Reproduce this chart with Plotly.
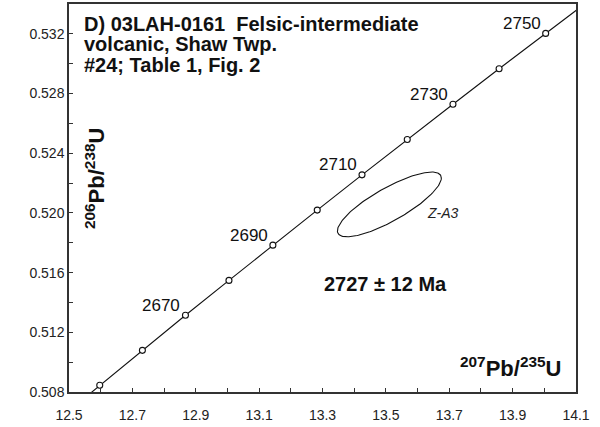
import numpy as np
import plotly.graph_objects as go

# Concordia points (age in Ma, 207Pb/235U, 206Pb/238U)
ages = [2640, 2650, 2660, 2670, 2680, 2690, 2700, 2710, 2720, 2730, 2740, 2750, 2760]
conc_x = [12.4638, 12.5970, 12.7316, 12.8675, 13.0048, 13.1434, 13.2834, 13.4247, 13.5675, 13.7117, 13.8573, 14.0043, 14.1528]
conc_y = [0.50611, 0.50845, 0.51079, 0.51314, 0.51548, 0.51784, 0.52019, 0.52255, 0.52492, 0.52728, 0.52966, 0.53203, 0.53441]
marker_ages = [2650, 2660, 2670, 2680, 2690, 2700, 2710, 2720, 2730, 2740, 2750]
label_ages = [2670, 2690, 2710, 2730, 2750]

# Analysis ellipse Z-A3
ell_name = "Z-A3"
ell_cx = 13.511
ell_cy = 0.52057
ell_ex = 0.164
ell_ey = 0.00217
ell_rho = 0.815

age_result = "2727 ± 12 Ma"

x_ticks = [12.5, 12.7, 12.9, 13.1, 13.3, 13.5, 13.7, 13.9, 14.1]
y_ticks = [0.508, 0.512, 0.516, 0.520, 0.524, 0.528, 0.532]

FONT = "Liberation Sans, Arial, sans-serif"

fig = go.Figure()

# concordia line
fig.add_trace(go.Scatter(x=conc_x, y=conc_y, mode="lines",
                         line=dict(color="#111111", width=1.1),
                         hoverinfo="skip", showlegend=False))
mx = [conc_x[ages.index(a)] for a in marker_ages]
my = [conc_y[ages.index(a)] for a in marker_ages]
fig.add_trace(go.Scatter(x=mx, y=my, mode="markers",
                         marker=dict(symbol="circle", size=6, color="white",
                                     line=dict(color="#111111", width=1.1)),
                         text=[str(a) for a in marker_ages],
                         showlegend=False, cliponaxis=False))

# ellipse
t = np.linspace(0, 2 * np.pi, 200)
ex = ell_cx + ell_ex * np.cos(t)
ey = ell_cy + ell_ey * (ell_rho * np.cos(t) + np.sqrt(1 - ell_rho ** 2) * np.sin(t))
fig.add_trace(go.Scatter(x=ex, y=ey, mode="lines",
                         line=dict(color="#111111", width=1.1),
                         hoverinfo="skip", showlegend=False))

annotations = []
for a in label_ages:
    i = ages.index(a)
    annotations.append(dict(x=conc_x[i], y=conc_y[i], xref="x", yref="y",
                            text=str(a), showarrow=False,
                            xanchor="right", yanchor="middle",
                            xshift=-3, yshift=10,
                            font=dict(family=FONT, size=17, color="#111111")))

annotations.append(dict(x=ell_cx + ell_ex * 1.02, y=ell_cy - ell_ey * 0.4, xref="x", yref="y",
                        text="<i>" + ell_name + "</i>", showarrow=False,
                        xanchor="center", yanchor="middle", xshift=1, yshift=4,
                        font=dict(family=FONT, size=14, color="#222222")))

title_lines = ["D) 03LAH-0161  Felsic-intermediate",
               "volcanic, Shaw Twp.",
               "#24; Table 1, Fig. 2"]
for k, line in enumerate(title_lines):
    annotations.append(dict(x=0.025, y=1 - (20 + 20.7 * k) / 390, xref="paper", yref="paper",
                            text="<b>" + line + "</b>", showarrow=False,
                            xanchor="left", yanchor="middle",
                            font=dict(family=FONT, size=20, color="#111111")))

annotations.append(dict(x=13.498, y=0.51527, xref="x", yref="y",
                        text="<b>" + age_result + "</b>", showarrow=False,
                        xanchor="center", yanchor="middle",
                        font=dict(family=FONT, size=20, color="#111111")))

annotations.append(dict(x=0.976, y=(392 - 367) / 390, xref="paper", yref="paper",
                        text="<b><sup>207</sup>Pb/<sup>235</sup>U</b>", showarrow=False,
                        xanchor="right", yanchor="middle",
                        font=dict(family=FONT, size=22, color="#111111")))

annotations.append(dict(x=(95 - 69) / 507, y=(392 - 177) / 390, xref="paper", yref="paper",
                        text="<b><sup>206</sup>Pb/<sup>238</sup>U</b>", showarrow=False,
                        textangle=-90, xanchor="center", yanchor="middle",
                        font=dict(family=FONT, size=22, color="#111111")))

axis_common = dict(showgrid=False, zeroline=False, showline=True, mirror=True,
                   linecolor="#333333", linewidth=1.5, ticks="inside", ticklen=4,
                   tickcolor="#333333", tickwidth=1,
                   tickfont=dict(family=FONT, size=14, color="#222222"))

fig.update_xaxes(range=[12.5, 14.1], tickvals=x_ticks,
                 ticktext=[f"{v:.1f}" for v in x_ticks],
                 ticklabelstandoff=9,
                 minor=dict(dtick=0.1, tick0=12.5, ticks="inside", ticklen=4,
                            tickcolor="#333333", tickwidth=1),
                 **axis_common)
fig.update_yaxes(range=[0.508, 0.534], tickvals=y_ticks,
                 ticktext=[f"{v:.3f}" for v in y_ticks],
                 minor=dict(dtick=0.002, tick0=0.508, ticks="inside", ticklen=4,
                            tickcolor="#333333", tickwidth=1),
                 **axis_common)

fig.update_layout(width=600, height=427,
                  margin=dict(l=69, r=24, t=2, b=35),
                  paper_bgcolor="white", plot_bgcolor="white",
                  annotations=annotations, showlegend=False,
                  font=dict(family=FONT))

fig.write_html("out.html", config={"displayModeBar": False},
               post_script="document.body.style.margin='0';document.body.style.padding='0';")
